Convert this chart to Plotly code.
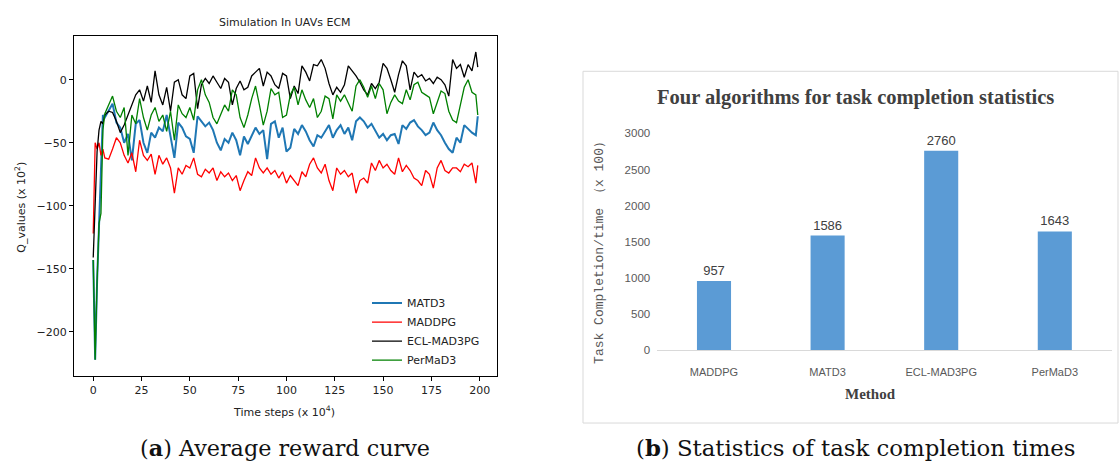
import plotly.graph_objects as go

W, H = 1120, 468

# ---------------- data: left panel ----------------
t_steps = [0, 1, 2, 3, 4, 5, 6] + list(range(8, 199, 2)) + [199]

matd3 = [-143, -222, -160, -114, -80, -28, -30,
         -24, -19, -34, -38, -50, -43,
         -64, -35, -32, -50, -58,
         -42, -46, -38, -41, -28,
         -45, -62, -34, -38, -45,
         -47, -58, -29, -33, -37,
         -34, -40, -50, -56, -47,
         -50, -42, -48, -60, -45,
         -51, -44, -38, -43, -40,
         -63, -35, -33, -46, -38,
         -57, -54, -39, -43, -36,
         -41, -48, -53, -44, -46,
         -41, -36, -46, -40, -36,
         -43, -38, -48, -33, -30,
         -33, -38, -35, -41, -46,
         -43, -48, -44, -43, -51,
         -36, -39, -34, -32, -37,
         -40, -44, -42, -34, -40,
         -44, -50, -55, -58, -46,
         -50, -36, -39, -42, -44, -29]

maddpg = [-122, -50, -55, -50, -60, -55, -62,
          -63, -55, -46, -50, -60, -66,
          -58, -73, -48, -60, -64,
          -59, -75, -60, -67, -62,
          -70, -90, -70, -75, -68,
          -70, -62, -75, -77, -71,
          -74, -70, -80, -73, -77,
          -74, -80, -76, -88, -80,
          -73, -76, -62, -70, -74,
          -70, -75, -72, -78, -73,
          -82, -76, -80, -84, -73,
          -77, -67, -62, -70, -74,
          -67, -80, -88, -70, -75,
          -72, -77, -74, -90, -80,
          -78, -82, -66, -72, -64,
          -70, -67, -72, -75, -62,
          -73, -68, -72, -78, -80,
          -84, -72, -75, -86, -70,
          -64, -72, -74, -70, -70,
          -73, -67, -69, -66, -82, -68]

ecl_mad3pg = [-141, -100, -57, -40, -33, -35, -28,
              -25, -26, -33, -42, -36, -28,
              -20, -12, -8, -17, -5,
              -18, 7, -12, -20, -6,
              -25, -2, 0, -12, -15,
              3, 5, -23, -4, 1,
              -3, 3, -2, -7, 1,
              -2, -20, -7, -1, -8,
              -6, 3, 6, 9, -5,
              6, 3, -4, -7, 5,
              3, -15, -5, -11, 11,
              6, -1, 12, 11, 16,
              9, -3, -12, -6, -10,
              -4, 11, 7, 3, -2,
              -8, -12, -3, -7, -2,
              13, 9, 0, -10, 4,
              15, 11, -8, 6, 2,
              4, -1, 1, -3, 2,
              0, -4, -13, 16, 9,
              12, 2, 12, 7, 22, 10]

permad3 = [-143, -222, -160, -114, -106, -40, -27,
           -20, -13, -25, -30, -22, -60,
           -28, -35, -15, -30, -40,
           -28, -22, -33, -28, -41,
           -25, -48, -20, -27, -30,
           -22, -32, -8, 0, -12,
           -18, -30, -35, -28, -20,
           -25, -8, -12, -30, -38,
           -28, -15, -5, -20, -36,
           -25, -7, -12, -10, -30,
           -28, -12, -6, -20, -8,
           -16, -22, -15, -30, -25,
           -13, -15, -31, -12, -17,
           -12, -18, -25, -5, 0,
           -6, -14, -5, -15, -3,
           -8, -27, -18, -12, -17,
           -19, -8, -16, -4, -2,
           -10, -12, -14, -27, -18,
           -9, -11, -25, -32, -34,
           -20, -6, 0, -10, -12, -28]

series_names = ["MATD3", "MADDPG", "ECL-MAD3PG", "PerMaD3"]
series_values = [matd3, maddpg, ecl_mad3pg, permad3]
x_ticks = [0, 25, 50, 75, 100, 125, 150, 175, 200]
y_ticks = [-200, -150, -100, -50, 0]

# ---------------- data: right panel ----------------
methods = ["MADDPG", "MATD3", "ECL-MAD3PG", "PerMaD3"]
completions = [957, 1586, 2760, 1643]
bar_y_ticks = [0, 500, 1000, 1500, 2000, 2500, 3000]

# ---------------- styles ----------------
line_colors = ["#1f77b4", "#ff0000", "#000000", "#008000"]
line_widths = [2.0, 1.3, 1.3, 1.3]


def px_x(p):
    return p / W


def px_y(p):
    return 1 - p / H


fig = go.Figure()

for i, (name, vals) in enumerate(zip(series_names, series_values)):
    fig.add_trace(go.Scatter(
        x=t_steps, y=vals, mode="lines", name=name,
        line=dict(color=line_colors[i], width=line_widths[i]),
        xaxis="x", yaxis="y", legendgroup=name,
    ))

fig.add_trace(go.Bar(
    x=methods, y=completions, width=0.3,
    marker=dict(color="#5b9bd5", line=dict(width=0)),
    text=[str(v) for v in completions], textposition="outside",
    textfont=dict(family="Liberation Sans", size=13, color="#404040"),
    cliponaxis=False, showlegend=False, xaxis="x2", yaxis="y2",
))

left_font = dict(family="DejaVu Sans", size=11, color="#222222")

fig.update_layout(
    width=W, height=H,
    margin=dict(l=0, r=0, t=0, b=0),
    paper_bgcolor="white", plot_bgcolor="white",
    showlegend=True,
    legend=dict(
        x=px_x(367), y=px_y(290), xanchor="left", yanchor="top",
        font=dict(family="DejaVu Sans", size=11, color="#222222"),
        bgcolor="rgba(255,255,255,0)", tracegroupgap=0,
        itemwidth=30,
    ),
    xaxis=dict(
        domain=[px_x(74), px_x(497)], range=[-9.95, 208.95],
        tickvals=x_ticks, ticks="outside", ticklen=4, tickcolor="black",
        showline=True, mirror=True, linecolor="black", linewidth=1,
        showgrid=False, zeroline=False, tickfont=left_font,
        anchor="y",
    ),
    yaxis=dict(
        domain=[px_y(380), px_y(31)], range=[-235.2, 34.5],
        tickvals=y_ticks, ticks="outside", ticklen=4, tickcolor="black",
        showline=True, mirror=True, linecolor="black", linewidth=1,
        showgrid=False, zeroline=False, tickfont=left_font,
        anchor="x",
    ),
    xaxis2=dict(
        domain=[px_x(657.2), px_x(1111.6)], anchor="y2",
        showline=True, linecolor="#d9d9d9", linewidth=1,
        ticks="", showgrid=False, zeroline=False,
        tickfont=dict(family="Liberation Sans", size=11, color="#595959"),
        ticklabelstandoff=12,
    ),
    yaxis2=dict(
        domain=[px_y(353.3), px_y(130.7)], anchor="x2", range=[0, 3000],
        tickvals=bar_y_ticks, showline=False, showgrid=False, zeroline=False,
        ticks="", tickfont=dict(family="Liberation Sans", size=11.5, color="#595959"),
        ticklabelstandoff=6,
    ),
    bargap=0.7,
    shapes=[dict(
        type="rect", xref="paper", yref="paper",
        x0=px_x(583), x1=px_x(1118), y0=px_y(428), y1=px_y(67),
        line=dict(color="#d9d9d9", width=1), fillcolor="rgba(0,0,0,0)",
        layer="below",
    )],
    annotations=[
        dict(text="Simulation In UAVs ECM", x=px_x(285), y=px_y(17.3),
             xref="paper", yref="paper", showarrow=False,
             xanchor="center", yanchor="middle",
             font=dict(family="DejaVu Sans", size=11, color="#222222")),
        dict(text="Time steps (x 10<sup>4</sup>)", x=px_x(284), y=px_y(416.5),
             xref="paper", yref="paper", showarrow=False,
             xanchor="center", yanchor="middle", font=left_font),
        dict(text="Q_values (x 10<sup>2</sup>)", x=px_x(20.3), y=px_y(206.7),
             xref="paper", yref="paper", showarrow=False, textangle=-90,
             xanchor="center", yanchor="middle", font=left_font),
        dict(text="<b>Four algorithms for task completion statistics</b>",
             x=px_x(855.5), y=px_y(94), xref="paper", yref="paper",
             showarrow=False, xanchor="center", yanchor="middle",
             font=dict(family="Liberation Serif", size=20.5, color="#404040")),
        dict(text="<b>Method</b>", x=px_x(870), y=px_y(398),
             xref="paper", yref="paper", showarrow=False,
             xanchor="center", yanchor="middle",
             font=dict(family="Liberation Serif", size=15, color="#404040")),
        dict(text="Task Completion/time （x 100）", x=px_x(600), y=px_y(250.3),
             xref="paper", yref="paper", showarrow=False, textangle=-90,
             xanchor="center", yanchor="middle",
             font=dict(family="Liberation Mono", size=13, color="#595959")),
        dict(text="(<b>a</b>) Average reward curve", x=px_x(285), y=px_y(454),
             xref="paper", yref="paper", showarrow=False,
             xanchor="center", yanchor="middle",
             font=dict(family="DejaVu Serif", size=22.3, color="#111111")),
        dict(text="(<b>b</b>) Statistics of task completion times", x=px_x(855.5), y=px_y(454),
             xref="paper", yref="paper", showarrow=False,
             xanchor="center", yanchor="middle",
             font=dict(family="DejaVu Serif", size=22.8, color="#111111")),
    ],
)

fig.write_html("out.html")
